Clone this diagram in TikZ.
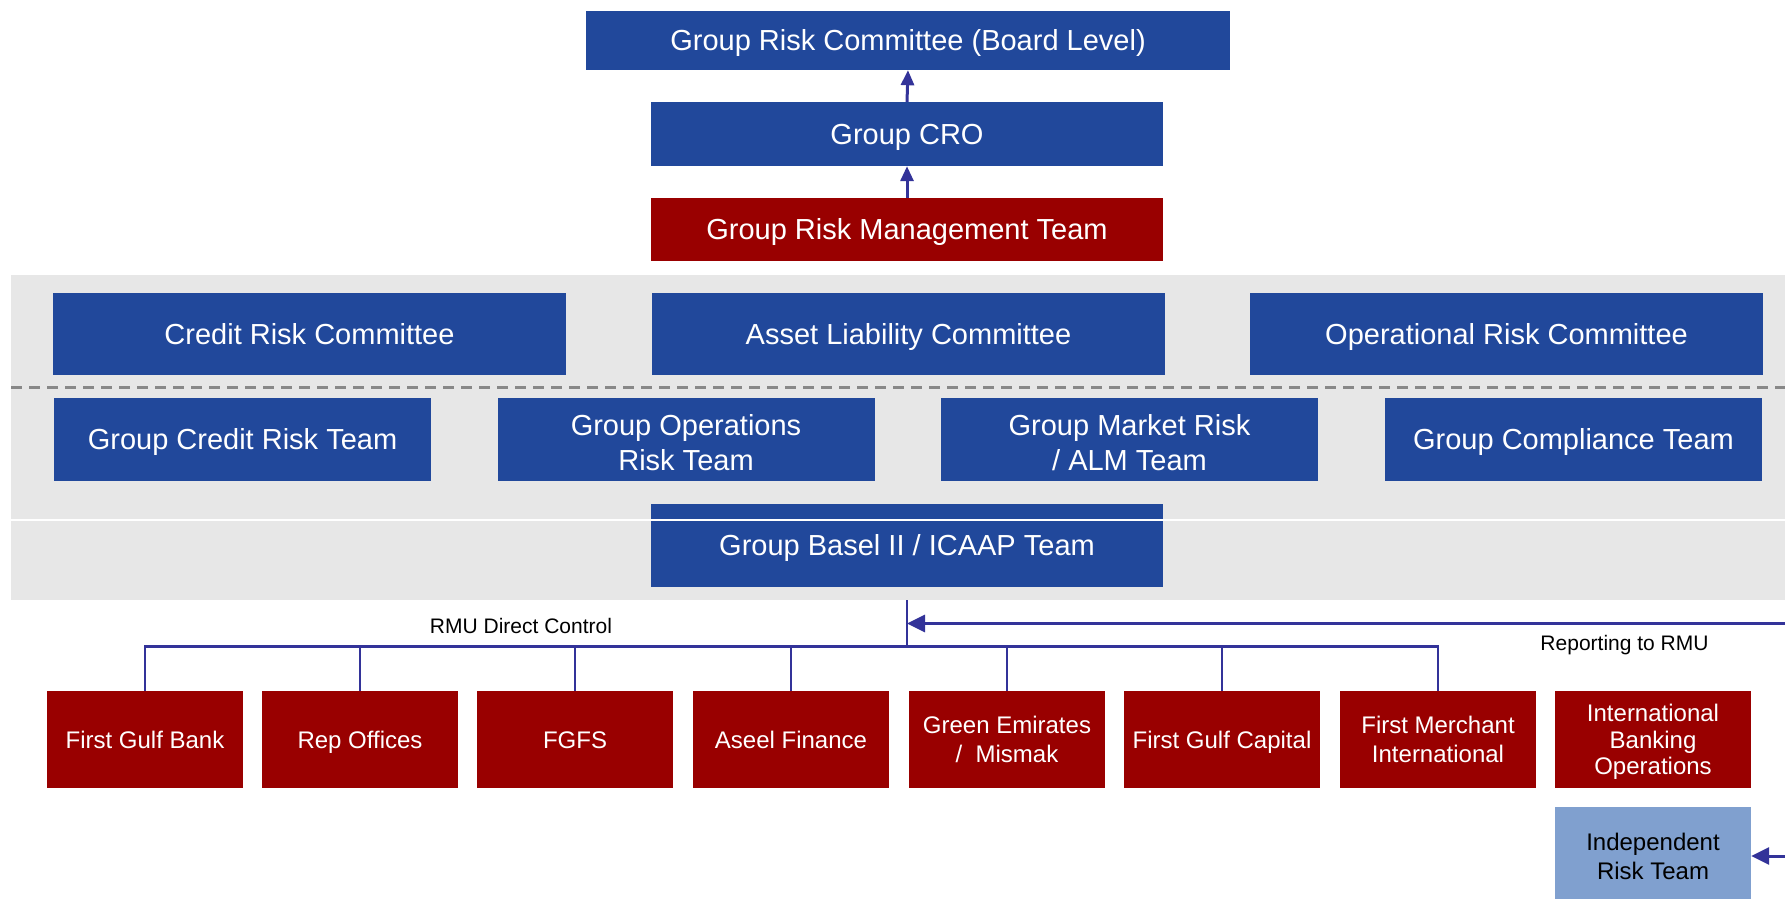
\documentclass[tikz,border=0pt]{standalone}
\usepackage{fontspec}
\setmainfont{Liberation Sans}
\usetikzlibrary{arrows.meta}
\definecolor{boxblue}{RGB}{33,72,155}
\definecolor{boxred}{RGB}{153,0,0}
\definecolor{lightblue}{RGB}{128,160,207}
\definecolor{bandgray}{RGB}{231,231,231}
\definecolor{linkblue}{RGB}{51,51,153}
\definecolor{dashgray}{RGB}{136,136,136}
\newcommand{\vstrutx}{\rule[-0.214em]{0pt}{1.144em}}
\newcommand{\topstrut}[1]{\rule{0pt}{#1}}
\tikzset{
  base/.style={rectangle, inner sep=0pt, align=center,
    execute at begin node=\vstrutx, execute at end node=\vstrutx},
  bluebox/.style={base, fill=boxblue, text=white, font=\fontsize{29}{35.5}\selectfont},
  redbox/.style={base, fill=boxred, text=white, minimum width=196pt, minimum height=97pt, font=\fontsize{24}{29.6}\selectfont},
  indepbox/.style={base, fill=lightblue, text=black, minimum width=196pt, minimum height=99pt, font=\fontsize{24}{28.5}\selectfont},
  uparrow/.style={draw=linkblue, line width=3pt, -{Triangle[length=15pt,width=13pt]}},
  sidearrow/.style={draw=linkblue, line width=3pt, -{Triangle[length=18pt,width=17pt]}},
  bus/.style={draw=linkblue, line width=2.5pt},
  lbl/.style={inner sep=0pt, text=black, font=\fontsize{21}{25}\selectfont},
}
\begin{document}
\begin{tikzpicture}[x=1pt,y=-1pt]
\useasboundingbox (0,0) rectangle (1785,899);
% grey band
\fill[bandgray] (11,275) rectangle (1785,600);
% top chain
\node[bluebox, minimum width=644pt, minimum height=59pt] (top) at (908,40.5) {Group Risk Committee (Board Level)};
\node[bluebox, minimum width=512pt, minimum height=64pt] (cro) at (907,134) {Group CRO};
\node[bluebox, fill=boxred, minimum width=512pt, minimum height=63pt] (grmt) at (907,229.5) {Group Risk Management Team};
\draw[uparrow] (grmt.north) -- (cro.south);
\draw[uparrow] (cro.north) -- (top.south);
% committees
\node[bluebox, minimum width=513pt, minimum height=82pt] (crc) at (309.5,334) {Credit Risk Committee};
\node[bluebox, minimum width=513pt, minimum height=82pt] (alc) at (908.5,334) {Asset Liability Committee};
\node[bluebox, minimum width=513pt, minimum height=82pt] (orc) at (1506.5,334) {Operational Risk Committee};
% dashed separator
\coordinate (dl) at (11,387);
\coordinate (dr) at (1785,387);
\draw[dashgray, line width=3pt, dash pattern=on 11pt off 7pt] (dl) -- (dr);
% teams
\node[bluebox, minimum width=377pt, minimum height=83pt] (gcrt) at (242.5,439.5) {Group Credit Risk Team};
\node[bluebox, minimum width=377pt, minimum height=83pt] (gort) at (686,439.5) {\topstrut{1.134em}Group Operations\\Risk Team};
\node[bluebox, minimum width=377pt, minimum height=83pt] (gmrt) at (1129.5,439.5) {\topstrut{1.134em}Group Market Risk\\/ ALM Team};
\node[bluebox, minimum width=377pt, minimum height=83pt] (gct) at (1573.5,439.5) {Group Compliance Team};
\node[bluebox, minimum width=512pt, minimum height=83pt] (basel) at (907,545.5) {Group Basel II / ICAAP Team};
% white split line
\coordinate (wl) at (11,519.5);
\coordinate (wr) at (1785,519.5);
\draw[white, line width=2pt] (wl) -- (wr);
% subsidiaries
\node[redbox] (fgb) at (145,739.5) {First Gulf Bank};
\node[redbox] (rep) at (360,739.5) {Rep Offices};
\node[redbox] (fgfs) at (575,739.5) {FGFS};
\node[redbox] (aseel) at (791,739.5) {Aseel Finance};
\node[redbox] (green) at (1007,739.5) {\topstrut{0.93em}Green Emirates\\/~ Mismak};
\node[redbox] (fgc) at (1222,739.5) {First Gulf Capital};
\node[redbox] (fmi) at (1438,739.5) {\topstrut{0.93em}First Merchant\\International};
\node[redbox, font=\fontsize{24}{26.2}\selectfont] (ibo) at (1653,739.5) {\topstrut{0.93em}International\\Banking\\Operations};
\node[indepbox] (indep) at (1653,856.5) {\topstrut{0.93em}Independent\\Risk Team};
% bus
\coordinate (bandbot) at (907,600);
\coordinate (hub) at (907,646.5);
\draw[bus] (bandbot) -- (hub);
\draw[bus] (fgb.north) |- (hub);
\draw[bus] (fmi.north) |- (hub);
\foreach \n in {rep,fgfs,aseel,green,fgc} {
  \draw[bus] (\n.north) -- (\n.north |- hub);
}
% reporting arrows
\coordinate (repin) at (1785,623.5);
\coordinate (repout) at (907,623.5);
\draw[sidearrow] (repin) -- (repout);
\coordinate (indin) at (1785,856);
\draw[sidearrow] (indin) -- (indin -| indep.east);
% labels
\node[lbl] (rmudc) at (521,625.5) {RMU Direct Control};
\node[lbl] (rtrmu) at (1624.5,645) {Reporting to RMU};
\end{tikzpicture}
\end{document}
